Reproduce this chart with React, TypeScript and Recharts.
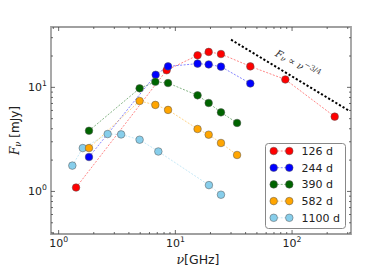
import React from "react";
import {
  ComposedChart,
  Line,
  XAxis,
  YAxis,
  ReferenceArea,
  ReferenceDot,
  Legend,
} from "recharts";

// ---------- data ----------
const freq126 = [1.41, 8.42, 15.5, 19.3, 24.6, 43.9, 87.6, 232];
const flux126 = [1.09, 14.6, 20.3, 21.9, 20.9, 15.9, 11.9, 5.23];

const freq244 = [1.82, 6.78, 8.66, 15.5, 19.3, 24.6, 43.9];
const flux244 = [2.14, 13.2, 15.9, 16.9, 16.6, 15.8, 10.9];

const freq390 = [1.82, 4.94, 6.74, 8.66, 15.5, 19.3, 24.6, 33.8];
const flux390 = [3.83, 9.78, 11.3, 11.0, 8.38, 7.08, 5.75, 4.55];

const freq582 = [1.82, 4.94, 6.74, 8.66, 15.5, 19.3, 24.6, 33.8];
const flux582 = [2.61, 7.4, 6.78, 6.07, 3.98, 3.51, 2.92, 2.24];

const freq1100 = [1.31, 1.61, 2.63, 3.43, 4.94, 7.15, 19.4, 24.6];
const flux1100 = [1.77, 2.61, 3.56, 3.53, 3.14, 2.42, 1.15, 0.93];

const powerLawFreq = [30.0, 305];
const powerLawFlux = [28.7, 6.0];

const annotationFreq = 112;
const annotationFlux = 16.8;

const xTicks = [0.9, 1, 2, 3, 4, 5, 6, 7, 8, 9, 10, 20, 30, 40, 50, 60, 70, 80, 90, 100, 200, 300];
const yTicks = [0.4, 0.5, 0.6, 0.7, 0.8, 0.9, 1, 2, 3, 4, 5, 6, 7, 8, 9, 10, 20, 30];

const X_DOMAIN: [number, number] = [0.86, 320];
const Y_DOMAIN: [number, number] = [0.39, 38];

type Series = { name: string; color: string; freq: number[]; flux: number[] };

const legendOrder: Series[] = [
  { name: "126 d", color: "#ff0000", freq: freq126, flux: flux126 },
  { name: "244 d", color: "#0000ff", freq: freq244, flux: flux244 },
  { name: "390 d", color: "#006400", freq: freq390, flux: flux390 },
  { name: "582 d", color: "#ffa500", freq: freq582, flux: flux582 },
  { name: "1100 d", color: "#87ceeb", freq: freq1100, flux: flux1100 },
];
// drawing order (light blue underneath the others)
const drawOrder: Series[] = [legendOrder[4], legendOrder[0], legendOrder[1], legendOrder[2], legendOrder[3]];

const toRows = (xs: number[], ys: number[]) => xs.map((x, i) => ({ x, y: ys[i] }));

// ---------- layout ----------
const W = 390;
const H = 270;
const M_TOP = 27;
const M_RIGHT = 39;
const Y_AXIS_W = 51;
const X_AXIS_H = 36;
const PLOT_TOP = M_TOP;
const PLOT_BOTTOM = H - X_AXIS_H;
const PLOT_LEFT = Y_AXIS_W;
const PLOT_RIGHT = W - M_RIGHT;
const DOT_R = 3.8;

const FONT = "DejaVu Sans, sans-serif";
const SERIF = "DejaVu Serif, serif";
const TICK_COLOR = "#444";

const isPow10 = (v: number) => Math.abs(Math.log10(v) - Math.round(Math.log10(v))) < 1e-9;

const XTick = (props: any) => {
  const { x, payload } = props;
  const v = payload.value;
  const major = isPow10(v);
  const len = major ? 4 : 2;
  return (
    <g>
      <line x1={x} x2={x} y1={PLOT_BOTTOM} y2={PLOT_BOTTOM - len} stroke={TICK_COLOR} strokeWidth={0.8} />
      <line x1={x} x2={x} y1={PLOT_TOP} y2={PLOT_TOP + len} stroke={TICK_COLOR} strokeWidth={0.8} />
      {major && (
        <text x={x} y={PLOT_BOTTOM + 12.5} textAnchor="middle" fontSize={11} fontFamily={FONT} fill="#222">
          10
          <tspan dy={-5} fontSize={7.7}>
            {Math.round(Math.log10(v))}
          </tspan>
        </text>
      )}
    </g>
  );
};

const YTick = (props: any) => {
  const { y, payload } = props;
  const v = payload.value;
  const major = isPow10(v);
  const len = major ? 4 : 2;
  return (
    <g>
      <line x1={PLOT_LEFT} x2={PLOT_LEFT + len} y1={y} y2={y} stroke={TICK_COLOR} strokeWidth={0.8} />
      <line x1={PLOT_RIGHT} x2={PLOT_RIGHT - len} y1={y} y2={y} stroke={TICK_COLOR} strokeWidth={0.8} />
      {major && (
        <text x={PLOT_LEFT - 4} y={y + 4} textAnchor="end" fontSize={11} fontFamily={FONT} fill="#222">
          10
          <tspan dy={-5} fontSize={7.7}>
            {Math.round(Math.log10(v))}
          </tspan>
        </text>
      )}
    </g>
  );
};

const XLabel = (props: any) => {
  const vb = props.viewBox || {};
  const cx = vb.x + vb.width / 2 - 3;
  return (
    <text x={cx} y={vb.y + 30} textAnchor="middle" fontSize={12.5} fontFamily={FONT} fill="#222">
      <tspan fontFamily={SERIF} fontStyle="italic">ν</tspan>
      <tspan>[GHz]</tspan>
    </text>
  );
};

const YLabel = (props: any) => {
  const vb = props.viewBox || {};
  const cy = vb.y + vb.height / 2;
  const cx = 15;
  return (
    <text
      x={cx}
      y={cy}
      textAnchor="middle"
      fontSize={12}
      fontFamily={FONT}
      fill="#222"
      transform={`rotate(-90 ${cx} ${cy})`}
      dominantBaseline="central"
    >
      <tspan fontFamily={SERIF} fontStyle="italic">F</tspan>
      <tspan fontFamily={SERIF} fontStyle="italic" fontSize={8.5} dy={3}>ν</tspan>
      <tspan dy={-3}> [mJy]</tspan>
    </text>
  );
};

const Annotation = (props: any) => {
  const vb = props.viewBox || {};
  const cx = vb.x + (vb.width || 0) / 2;
  const cy = vb.y + (vb.height || 0) / 2;
  return (
    <text
      x={cx}
      y={cy}
      textAnchor="middle"
      dominantBaseline="central"
      fontSize={10}
      fontFamily={SERIF}
      fill="#333"
      transform={`rotate(29 ${cx} ${cy})`}
    >
      <tspan fontStyle="italic">F</tspan>
      <tspan fontStyle="italic" fontSize={7.5} dy={2}>ν</tspan>
      <tspan dy={-2}> ∝ </tspan>
      <tspan fontStyle="italic">ν</tspan>
      <tspan fontSize={7.5} dy={-4}>−3/4</tspan>
    </text>
  );
};

const makeDot = (s: Series) => (p: any) => (
  <circle
    key={`${s.name}-${p.index}`}
    cx={p.cx}
    cy={p.cy}
    r={DOT_R}
    fill={s.color}
    stroke="#555"
    strokeWidth={0.5}
  />
);

const LegendBox = () => {
  const w = 81;
  const h = 86;
  return (
    <svg width={w} height={h} style={{ display: "block" }}>
      <rect x={0.5} y={0.5} width={w - 1} height={h - 1} rx={3} fill="#fff" stroke="#888" strokeWidth={1} />
      {legendOrder.map((s, i) => {
        const cy = 8 + i * 16.7;
        return (
          <g key={s.name}>
            <line x1={8.7} x2={24.3} y1={cy} y2={cy} stroke={s.color} strokeWidth={0.8} strokeDasharray="2 1.5" strokeOpacity={0.6} />
            <circle cx={8.7} cy={cy} r={DOT_R} fill={s.color} stroke="#555" strokeWidth={0.5} />
            <circle cx={24.3} cy={cy} r={DOT_R} fill={s.color} stroke="#555" strokeWidth={0.5} />
            <text x={36.5} y={cy + 4} fontSize={11} fontFamily={FONT} fill="#222">
              {s.name}
            </text>
          </g>
        );
      })}
    </svg>
  );
};

export default function App() {
  return (
    <div style={{ position: "absolute", left: 0, top: 0, width: W, height: H, background: "#fff" }}>
      <ComposedChart width={W} height={H} margin={{ top: M_TOP, right: M_RIGHT, left: 0, bottom: 0 }}>
        <XAxis
          dataKey="x"
          type="number"
          scale="log"
          domain={X_DOMAIN}
          allowDataOverflow
          ticks={xTicks}
          interval={0}
          tick={<XTick />}
          tickLine={false}
          axisLine={false}
          height={X_AXIS_H}
          label={<XLabel />}
        />
        <YAxis
          type="number"
          scale="log"
          domain={Y_DOMAIN}
          allowDataOverflow
          ticks={yTicks}
          interval={0}
          tick={<YTick />}
          tickLine={false}
          axisLine={false}
          width={Y_AXIS_W}
          label={<YLabel />}
        />
        <ReferenceArea
          x1={X_DOMAIN[0]}
          x2={X_DOMAIN[1]}
          y1={Y_DOMAIN[0]}
          y2={Y_DOMAIN[1]}
          fill="none"
          stroke="#a0a0a0"
          strokeWidth={1.8}
          ifOverflow="visible"
        />
        {drawOrder.map((s) => (
          <Line
            key={s.name}
            name={s.name}
            data={toRows(s.freq, s.flux)}
            dataKey="y"
            type="linear"
            stroke={s.color}
            strokeWidth={0.8}
            strokeOpacity={0.6}
            strokeDasharray="2 1.5"
            dot={makeDot(s)}
            activeDot={false}
            isAnimationActive={false}
          />
        ))}
        <Line
          name="powerlaw"
          data={toRows(powerLawFreq, powerLawFlux)}
          dataKey="y"
          type="linear"
          stroke="#000"
          strokeWidth={2}
          strokeDasharray="2.2 2"
          dot={false}
          activeDot={false}
          legendType="none"
          isAnimationActive={false}
        />
        <ReferenceDot
          x={annotationFreq}
          y={annotationFlux}
          r={1}
          fill="none"
          stroke="none"
          label={(p: any) => <Annotation {...p} />}
        />
        <Legend
          layout="horizontal"
          verticalAlign="middle"
          align="center"
          content={() => <LegendBox />}
          wrapperStyle={{ position: "absolute", left: 265, top: 143, width: 81, height: 86 }}
        />
      </ComposedChart>
    </div>
  );
}
